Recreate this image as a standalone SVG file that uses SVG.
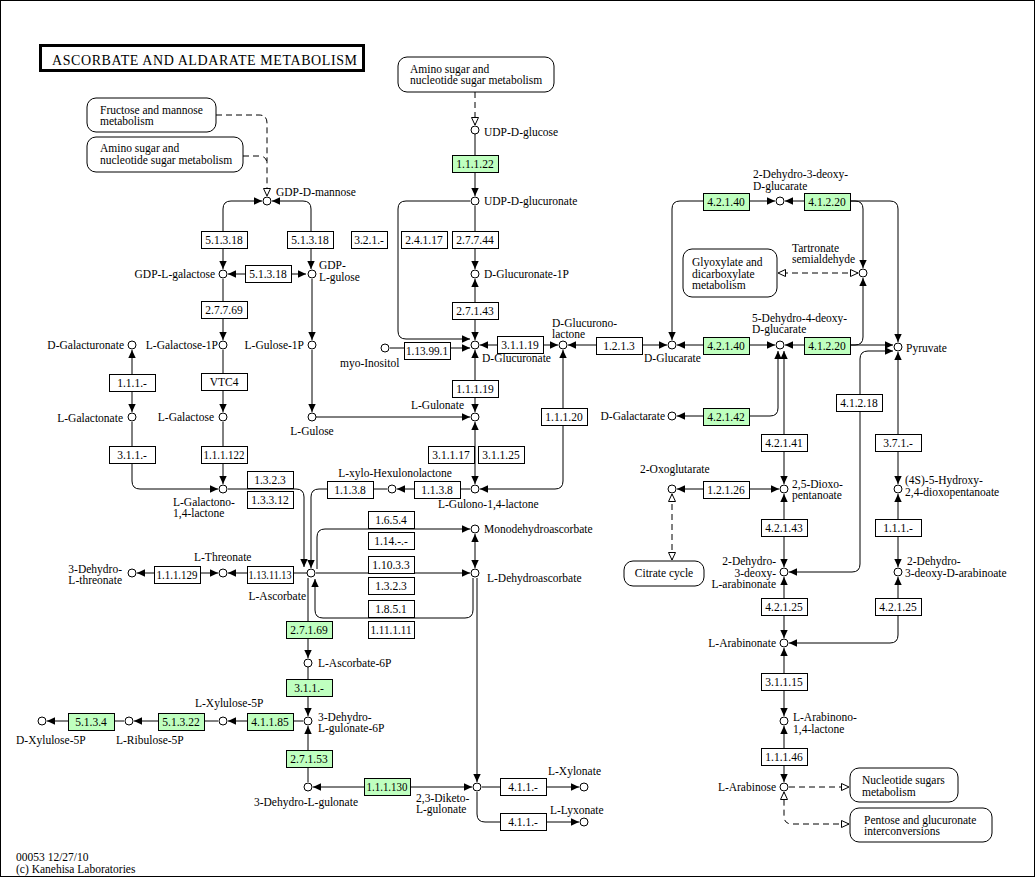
<svg xmlns="http://www.w3.org/2000/svg" width="1036" height="878" viewBox="0 0 1036 878">
<defs>
<style>
text{font-family:"Liberation Serif","Times New Roman",serif;font-size:11.5px;fill:#000}
.em text{text-anchor:middle}
.em rect{fill:#fff;stroke:#000;stroke-width:1;shape-rendering:crispEdges}
.em.g rect{fill:#bfffbf}
.cp circle{fill:#fff;stroke:#000;stroke-width:1}
.mp rect{fill:#fff;stroke:#000;stroke-width:1}
#edges path{fill:none;stroke:#000;stroke-width:1}
#edges path.d{stroke-dasharray:6 4}
.s{marker-start:url(#af)}
.t{marker-end:url(#af)}
.os{marker-start:url(#ao)}
.ot{marker-end:url(#ao)}
#title text{font-size:14px}
</style>
<marker id="af" viewBox="0 0 8 8" refX="8" refY="4" markerWidth="8" markerHeight="8" markerUnits="userSpaceOnUse" orient="auto-start-reverse"><path d="M0,0.3L8,4L0,7.7z" fill="#000"/></marker>
<marker id="ao" viewBox="0 0 9 9" refX="8.5" refY="4.5" markerWidth="9" markerHeight="9" markerUnits="userSpaceOnUse" orient="auto-start-reverse"><path d="M1,1L8.5,4.5L1,8z" fill="#fff" stroke="#000" stroke-width="1"/></marker>
</defs>
<rect x="0.5" y="0.5" width="1034" height="876" fill="#fff" stroke="#000"/>
<g id="title">
<rect x="40.5" y="45.5" width="323" height="25" fill="#fff" stroke="#000" stroke-width="3"/>
<text x="52" y="64.5" textLength="305" lengthAdjust="spacing">ASCORBATE AND ALDARATE METABOLISM</text>
</g>
<g id="edges">
<path class="s t" d="M262,201 H231 Q223,201 223,209 V269"/>
<path class="s t" d="M272,201 H303 Q311,201 311,209 V269"/>
<path class="s t" d="M228,274 H306"/>
<path class="t" d="M223,279 V340"/>
<path class="t" d="M223,350 V412"/>
<path class="t" d="M223,422 V484"/>
<path class="s t" d="M132,350 V412"/>
<path class="t" d="M132,422 V481 Q132,489 140,489 H218"/>
<path class="t" d="M228,489 H296 Q304,489 304,497 V567"/>
<path class="t" d="M470,489 H397"/>
<path class="t" d="M387,489 H319 Q311,489 311,497 V568"/>
<path class="t" d="M307,573 H228"/>
<path class="s t" d="M137,573 H218"/>
<path class="t" d="M317,569 V537 Q317,529 325,529 H470"/>
<path class="t" d="M316,573 H470"/>
<path class="s t" d="M475,534 V568"/>
<path class="t" d="M473,578 V610 Q473,618 465,618 H323 Q315,618 315,610 V579"/>
<path class="t" d="M477,578 V782"/>
<path class="t" d="M308,578 V658"/>
<path class="t" d="M308,667 V716"/>
<path class="t" d="M308,782 V726"/>
<path class="s t" d="M313,787 H472"/>
<path class="t" d="M482,787 H579"/>
<path class="t" d="M477,792 V814 Q477,822 485,822 H579"/>
<path class="t" d="M303,721 H228"/>
<path class="t" d="M218,721 H134"/>
<path class="t" d="M124,721 H47"/>
<path class="t" d="M475,134 V196"/>
<path class="t" d="M470,201 H406 Q398,201 398,209 V331 Q398,339 406,339 H470"/>
<path class="t" d="M475,206 V269"/>
<path class="s t" d="M475,279 V340"/>
<path class="t" d="M390,348 H470"/>
<path class="s t" d="M480,345 H558"/>
<path class="s t" d="M475,350 V412"/>
<path class="t" d="M316,417 H470"/>
<path class="t" d="M312,279 V340"/>
<path class="t" d="M312,350 V412"/>
<path class="s t" d="M475,422 V484"/>
<path class="s t" d="M563,350 V481 Q563,489 555,489 H480"/>
<path class="s t" d="M568,345 H667"/>
<path class="s t" d="M677,345 H775"/>
<path class="s t" d="M672,340 V209 Q672,201 680,201 H775"/>
<path class="s t" d="M785,201 H890 Q898,201 898,209 V342"/>
<path class="t" d="M851,201 H855 Q863,201 863,209 V268"/>
<path class="s t" d="M785,345 H893"/>
<path class="t" d="M851,345 H855 Q863,345 863,337 V278"/>
<path class="d os ot" d="M858,273 H778"/>
<path class="s t" d="M677,416 H770 Q778,416 778,408 V351"/>
<path class="s t" d="M784,351 V484"/>
<path class="s t" d="M677,489 H779"/>
<path class="s t" d="M784,494 V567"/>
<path class="s t" d="M789,572 H852 Q860,572 860,564 V359 Q860,351 868,351 H893"/>
<path class="s t" d="M898,352 V484"/>
<path class="s t" d="M898,494 V567"/>
<path class="s t" d="M898,577 V635 Q898,643 890,643 H789"/>
<path class="s t" d="M784,577 V638"/>
<path class="s t" d="M784,648 V716"/>
<path class="s t" d="M784,726 V782"/>
<path class="d ot" d="M789,787 H849"/>
<path class="d os ot" d="M849,824 H792 Q784,824 784,816 V792"/>
<path class="d os ot" d="M672,494 V560"/>
<path class="d ot" d="M475,92 V125"/>
<path class="d ot" d="M216,115 H259 Q267,115 267,123 V196"/>
<path class="d" d="M243,156 H259 Q267,156 267,164"/>
</g>
<g id="map-fructose" class="mp"><rect x="87" y="98" width="129" height="34" rx="9"/><text x="100" y="113.5">Fructose and mannose</text><text x="100" y="125">metabolism</text></g>
<g id="map-amino-left" class="mp"><rect x="87" y="137" width="156" height="35" rx="9"/><text x="100" y="152">Amino sugar and</text><text x="100" y="164">nucleotide sugar metabolism</text></g>
<g id="map-amino-top" class="mp"><rect x="398" y="57" width="156" height="35" rx="9"/><text x="410" y="72.5">Amino sugar and</text><text x="410" y="84">nucleotide sugar metabolism</text></g>
<g id="map-glyoxylate" class="mp"><rect x="683" y="249" width="94" height="48" rx="9"/><text x="692" y="266">Glyoxylate and</text><text x="692" y="277.5">dicarboxylate</text><text x="692" y="289">metabolism</text></g>
<g id="map-citrate" class="mp"><rect x="624" y="561" width="80" height="25" rx="9"/><text x="664" y="577" text-anchor="middle">Citrate cycle</text></g>
<g id="map-nucleotide" class="mp"><rect x="850" y="768" width="108" height="34" rx="9"/><text x="862" y="784">Nucleotide sugars</text><text x="862" y="795.5">metabolism</text></g>
<g id="map-pentose" class="mp"><rect x="850" y="808" width="142" height="34" rx="9"/><text x="864" y="823.5">Pentose and glucuronate</text><text x="864" y="835">interconversions</text></g>
<g id="e1" class="em"><rect x="201" y="231" width="46" height="17"/><text x="224" y="244">5.1.3.18</text></g>
<g id="e2" class="em"><rect x="287" y="231" width="46" height="17"/><text x="310" y="244">5.1.3.18</text></g>
<g id="e3" class="em"><rect x="245" y="265" width="46" height="17"/><text x="268" y="278">5.1.3.18</text></g>
<g id="e4" class="em"><rect x="201" y="301" width="46" height="17"/><text x="224" y="314">2.7.7.69</text></g>
<g id="e5" class="em"><rect x="201" y="373" width="46" height="17"/><text x="224" y="386">VTC4</text></g>
<g id="e6" class="em"><rect x="201" y="446" width="46" height="17"/><text x="224" y="459" textLength="41" lengthAdjust="spacingAndGlyphs">1.1.1.122</text></g>
<g id="e7" class="em"><rect x="109" y="374" width="46" height="17"/><text x="132" y="387">1.1.1.-</text></g>
<g id="e8" class="em"><rect x="109" y="446" width="46" height="17"/><text x="132" y="459">3.1.1.-</text></g>
<g id="e9" class="em"><rect x="247" y="471" width="46" height="17"/><text x="270" y="484">1.3.2.3</text></g>
<g id="e10" class="em"><rect x="247" y="491" width="46" height="17"/><text x="270" y="504">1.3.3.12</text></g>
<g id="e11" class="em"><rect x="247" y="566" width="46" height="17"/><text x="270" y="579" textLength="43" lengthAdjust="spacingAndGlyphs">1.13.11.13</text></g>
<g id="e12" class="em"><rect x="154" y="566" width="46" height="17"/><text x="177" y="579" textLength="41" lengthAdjust="spacingAndGlyphs">1.1.1.129</text></g>
<g id="e13" class="em"><rect x="351" y="231" width="36" height="17"/><text x="369" y="244">3.2.1.-</text></g>
<g id="e14" class="em"><rect x="401" y="231" width="46" height="17"/><text x="424" y="244">2.4.1.17</text></g>
<g id="e15" class="em"><rect x="452" y="231" width="46" height="17"/><text x="475" y="244">2.7.7.44</text></g>
<g id="e16" class="em g"><rect x="452" y="155" width="46" height="17"/><text x="475" y="168">1.1.1.22</text></g>
<g id="e17" class="em"><rect x="452" y="302" width="46" height="17"/><text x="475" y="315">2.7.1.43</text></g>
<g id="e18" class="em"><rect x="404" y="342" width="46" height="17"/><text x="427" y="355" textLength="42" lengthAdjust="spacingAndGlyphs">1.13.99.1</text></g>
<g id="e19" class="em"><rect x="497" y="336" width="46" height="17"/><text x="520" y="349">3.1.1.19</text></g>
<g id="e20" class="em"><rect x="452" y="380" width="46" height="17"/><text x="475" y="393">1.1.1.19</text></g>
<g id="e21" class="em"><rect x="428" y="446" width="46" height="17"/><text x="451" y="459">3.1.1.17</text></g>
<g id="e22" class="em"><rect x="478" y="446" width="46" height="17"/><text x="501" y="459">3.1.1.25</text></g>
<g id="e23" class="em"><rect x="414" y="481" width="46" height="17"/><text x="437" y="494">1.1.3.8</text></g>
<g id="e24" class="em"><rect x="327" y="481" width="46" height="17"/><text x="350" y="494">1.1.3.8</text></g>
<g id="e25" class="em"><rect x="368" y="511" width="46" height="17"/><text x="391" y="524">1.6.5.4</text></g>
<g id="e26" class="em"><rect x="368" y="532" width="46" height="17"/><text x="391" y="545">1.14.-.-</text></g>
<g id="e27" class="em"><rect x="368" y="556" width="46" height="17"/><text x="391" y="569">1.10.3.3</text></g>
<g id="e28" class="em"><rect x="368" y="577" width="46" height="17"/><text x="391" y="590">1.3.2.3</text></g>
<g id="e29" class="em"><rect x="368" y="600" width="46" height="17"/><text x="391" y="613">1.8.5.1</text></g>
<g id="e30" class="em"><rect x="368" y="621" width="46" height="17"/><text x="391" y="634" textLength="41" lengthAdjust="spacingAndGlyphs">1.11.1.11</text></g>
<g id="e31" class="em g"><rect x="286" y="621" width="46" height="17"/><text x="309" y="634">2.7.1.69</text></g>
<g id="e32" class="em g"><rect x="286" y="679" width="46" height="17"/><text x="309" y="692">3.1.1.-</text></g>
<g id="e33" class="em g"><rect x="247" y="713" width="46" height="17"/><text x="270" y="726">4.1.1.85</text></g>
<g id="e34" class="em g"><rect x="158" y="713" width="46" height="17"/><text x="181" y="726">5.1.3.22</text></g>
<g id="e35" class="em g"><rect x="68" y="713" width="46" height="17"/><text x="91" y="726">5.1.3.4</text></g>
<g id="e36" class="em g"><rect x="286" y="750" width="46" height="17"/><text x="309" y="763">2.7.1.53</text></g>
<g id="e37" class="em g"><rect x="364" y="778" width="46" height="17"/><text x="387" y="791" textLength="41" lengthAdjust="spacingAndGlyphs">1.1.1.130</text></g>
<g id="e38" class="em"><rect x="500" y="778" width="46" height="17"/><text x="523" y="791">4.1.1.-</text></g>
<g id="e39" class="em"><rect x="500" y="813" width="46" height="17"/><text x="523" y="826">4.1.1.-</text></g>
<g id="e40" class="em"><rect x="541" y="408" width="46" height="17"/><text x="564" y="421">1.1.1.20</text></g>
<g id="e41" class="em"><rect x="596" y="337" width="46" height="17"/><text x="619" y="350">1.2.1.3</text></g>
<g id="e42" class="em g"><rect x="703" y="193" width="46" height="17"/><text x="726" y="206">4.2.1.40</text></g>
<g id="e43" class="em g"><rect x="703" y="337" width="46" height="17"/><text x="726" y="350">4.2.1.40</text></g>
<g id="e44" class="em g"><rect x="703" y="408" width="46" height="17"/><text x="726" y="421">4.2.1.42</text></g>
<g id="e45" class="em"><rect x="703" y="481" width="46" height="17"/><text x="726" y="494">1.2.1.26</text></g>
<g id="e46" class="em g"><rect x="804" y="193" width="46" height="17"/><text x="827" y="206">4.1.2.20</text></g>
<g id="e47" class="em g"><rect x="804" y="337" width="46" height="17"/><text x="827" y="350">4.1.2.20</text></g>
<g id="e48" class="em"><rect x="761" y="434" width="46" height="17"/><text x="784" y="447">4.2.1.41</text></g>
<g id="e49" class="em"><rect x="836" y="394" width="46" height="17"/><text x="859" y="407">4.1.2.18</text></g>
<g id="e50" class="em"><rect x="875" y="434" width="46" height="17"/><text x="898" y="447">3.7.1.-</text></g>
<g id="e51" class="em"><rect x="761" y="519" width="46" height="17"/><text x="784" y="532">4.2.1.43</text></g>
<g id="e52" class="em"><rect x="875" y="519" width="46" height="17"/><text x="898" y="532">1.1.1.-</text></g>
<g id="e53" class="em"><rect x="761" y="598" width="46" height="17"/><text x="784" y="611">4.2.1.25</text></g>
<g id="e54" class="em"><rect x="875" y="598" width="46" height="17"/><text x="898" y="611">4.2.1.25</text></g>
<g id="e55" class="em"><rect x="761" y="673" width="46" height="17"/><text x="784" y="686">3.1.1.15</text></g>
<g id="e56" class="em"><rect x="761" y="748" width="46" height="17"/><text x="784" y="761">1.1.1.46</text></g>
<g id="c-gdp-d-mannose" class="cp"><circle cx="267" cy="201" r="4"/><text x="276" y="196">GDP-D-mannose</text></g>
<g id="c-gdp-l-galactose" class="cp"><circle cx="223" cy="274" r="4"/><text x="215" y="278" text-anchor="end">GDP-L-galactose</text></g>
<g id="c-gdp-l-gulose" class="cp"><circle cx="312" cy="274" r="4"/><text x="319" y="269">GDP-</text><text x="319" y="281">L-gulose</text></g>
<g id="c-l-galactose-1p" class="cp"><circle cx="223" cy="345" r="4"/><text x="218" y="349" text-anchor="end">L-Galactose-1P</text></g>
<g id="c-d-galacturonate" class="cp"><circle cx="132" cy="345" r="4"/><text x="124" y="349" text-anchor="end">D-Galacturonate</text></g>
<g id="c-l-galactonate" class="cp"><circle cx="132" cy="417" r="4"/><text x="123" y="422" text-anchor="end">L-Galactonate</text></g>
<g id="c-l-galactose" class="cp"><circle cx="223" cy="417" r="4"/><text x="214" y="421" text-anchor="end">L-Galactose</text></g>
<g id="c-l-galactono-lactone" class="cp"><circle cx="223" cy="489" r="4"/><text x="173" y="505.5">L-Galactono-</text><text x="173" y="517">1,4-lactone</text></g>
<g id="c-l-threonate" class="cp"><circle cx="223" cy="573" r="4"/><text x="194" y="561">L-Threonate</text></g>
<g id="c-3-dehydro-l-threonate" class="cp"><circle cx="132" cy="573" r="4"/><text x="122" y="572.5" text-anchor="end">3-Dehydro-</text><text x="122" y="584" text-anchor="end">L-threonate</text></g>
<g id="c-l-ascorbate" class="cp"><circle cx="311" cy="573" r="4"/><text x="306" y="600" text-anchor="end">L-Ascorbate</text></g>
<g id="c-l-ascorbate-6p" class="cp"><circle cx="308" cy="663" r="4"/><text x="318" y="667">L-Ascorbate-6P</text></g>
<g id="c-3-dehydro-l-gulonate-6p" class="cp"><circle cx="308" cy="721" r="4"/><text x="318" y="720.5">3-Dehydro-</text><text x="318" y="732">L-gulonate-6P</text></g>
<g id="c-3-dehydro-l-gulonate" class="cp"><circle cx="308" cy="787" r="4"/><text x="358" y="806" text-anchor="end">3-Dehydro-L-gulonate</text></g>
<g id="c-2-3-diketo-l-gulonate" class="cp"><circle cx="477" cy="787" r="4"/><text x="416" y="801.5">2,3-Diketo-</text><text x="416" y="813">L-gulonate</text></g>
<g id="c-l-xylonate" class="cp"><circle cx="584" cy="787" r="4"/><text x="548" y="775">L-Xylonate</text></g>
<g id="c-l-lyxonate" class="cp"><circle cx="584" cy="822" r="4"/><text x="550" y="814">L-Lyxonate</text></g>
<g id="c-l-xylulose-5p" class="cp"><circle cx="223" cy="721" r="4"/><text x="195" y="707">L-Xylulose-5P</text></g>
<g id="c-l-ribulose-5p" class="cp"><circle cx="129" cy="721" r="4"/><text x="116" y="744">L-Ribulose-5P</text></g>
<g id="c-d-xylulose-5p" class="cp"><circle cx="42" cy="721" r="4"/><text x="16" y="744">D-Xylulose-5P</text></g>
<g id="c-udp-d-glucose" class="cp"><circle cx="475" cy="130" r="4"/><text x="484" y="136">UDP-D-glucose</text></g>
<g id="c-udp-d-glucuronate" class="cp"><circle cx="475" cy="201" r="4"/><text x="484" y="205">UDP-D-glucuronate</text></g>
<g id="c-d-glucuronate-1p" class="cp"><circle cx="475" cy="274" r="4"/><text x="484" y="278">D-Glucuronate-1P</text></g>
<g id="c-d-glucuronate" class="cp"><circle cx="475" cy="345" r="4"/><text x="482" y="362">D-Glucuronate</text></g>
<g id="c-myo-inositol" class="cp"><circle cx="385" cy="348" r="4"/><text x="340" y="367">myo-Inositol</text></g>
<g id="c-l-gulose-1p" class="cp"><circle cx="312" cy="345" r="4"/><text x="304" y="349" text-anchor="end">L-Gulose-1P</text></g>
<g id="c-l-gulose" class="cp"><circle cx="312" cy="417" r="4"/><text x="312" y="435" text-anchor="middle">L-Gulose</text></g>
<g id="c-l-gulonate" class="cp"><circle cx="475" cy="417" r="4"/><text x="464" y="409" text-anchor="end">L-Gulonate</text></g>
<g id="c-l-gulono-lactone" class="cp"><circle cx="475" cy="489" r="4"/><text x="438" y="508">L-Gulono-1,4-lactone</text></g>
<g id="c-l-xylo-hexulonolactone" class="cp"><circle cx="392" cy="489" r="4"/><text x="395" y="477" text-anchor="middle">L-xylo-Hexulonolactone</text></g>
<g id="c-monodehydroascorbate" class="cp"><circle cx="475" cy="529" r="4"/><text x="484" y="533">Monodehydroascorbate</text></g>
<g id="c-l-dehydroascorbate" class="cp"><circle cx="475" cy="573" r="4"/><text x="487" y="582">L-Dehydroascorbate</text></g>
<g id="c-d-glucurono-lactone" class="cp"><circle cx="563" cy="345" r="4"/><text x="552" y="326.5">D-Glucurono-</text><text x="552" y="338">lactone</text></g>
<g id="c-d-glucarate" class="cp"><circle cx="672" cy="345" r="4"/><text x="644" y="362">D-Glucarate</text></g>
<g id="c-d-galactarate" class="cp"><circle cx="672" cy="416" r="4"/><text x="665" y="420" text-anchor="end">D-Galactarate</text></g>
<g id="c-2-oxoglutarate" class="cp"><circle cx="672" cy="489" r="4"/><text x="640" y="473">2-Oxoglutarate</text></g>
<g id="c-2-dehydro-3-deoxy-d-glucarate" class="cp"><circle cx="780" cy="201" r="4"/><text x="753" y="178">2-Dehydro-3-deoxy-</text><text x="753" y="189.5">D-glucarate</text></g>
<g id="c-5-dehydro-4-deoxy-d-glucarate" class="cp"><circle cx="780" cy="345" r="4"/><text x="752" y="321.5">5-Dehydro-4-deoxy-</text><text x="752" y="333">D-glucarate</text></g>
<g id="c-tartronate-semialdehyde" class="cp"><circle cx="863" cy="273" r="4"/><text x="792" y="251.5">Tartronate</text><text x="792" y="263">semialdehyde</text></g>
<g id="c-pyruvate" class="cp"><circle cx="898" cy="347" r="4"/><text x="906" y="352">Pyruvate</text></g>
<g id="c-2-5-dioxopentanoate" class="cp"><circle cx="784" cy="489" r="4"/><text x="792" y="487.5">2,5-Dioxo-</text><text x="792" y="499">pentanoate</text></g>
<g id="c-4s-5-hydroxy" class="cp"><circle cx="898" cy="489" r="4"/><text x="905" y="484">(4S)-5-Hydroxy-</text><text x="905" y="496">2,4-dioxopentanoate</text></g>
<g id="c-2-dehydro-3-deoxy-l-arabinonate" class="cp"><circle cx="784" cy="572" r="4"/><text x="776" y="565" text-anchor="end">2-Dehydro-</text><text x="776" y="576.5" text-anchor="end">3-deoxy-</text><text x="776" y="588" text-anchor="end">L-arabinonate</text></g>
<g id="c-2-dehydro-3-deoxy-d-arabinoate" class="cp"><circle cx="898" cy="572" r="4"/><text x="907" y="565">2-Dehydro-</text><text x="905" y="576.5">3-deoxy-D-arabinoate</text></g>
<g id="c-l-arabinonate" class="cp"><circle cx="784" cy="643" r="4"/><text x="776" y="647" text-anchor="end">L-Arabinonate</text></g>
<g id="c-l-arabinono-lactone" class="cp"><circle cx="784" cy="721" r="4"/><text x="793" y="721">L-Arabinono-</text><text x="793" y="732.5">1,4-lactone</text></g>
<g id="c-l-arabinose" class="cp"><circle cx="784" cy="787" r="4"/><text x="776" y="791" text-anchor="end">L-Arabinose</text></g>
<g id="footer"><text x="16" y="861">00053 12/27/10</text><text x="16" y="872.5">(c) Kanehisa Laboratories</text></g>
</svg>
